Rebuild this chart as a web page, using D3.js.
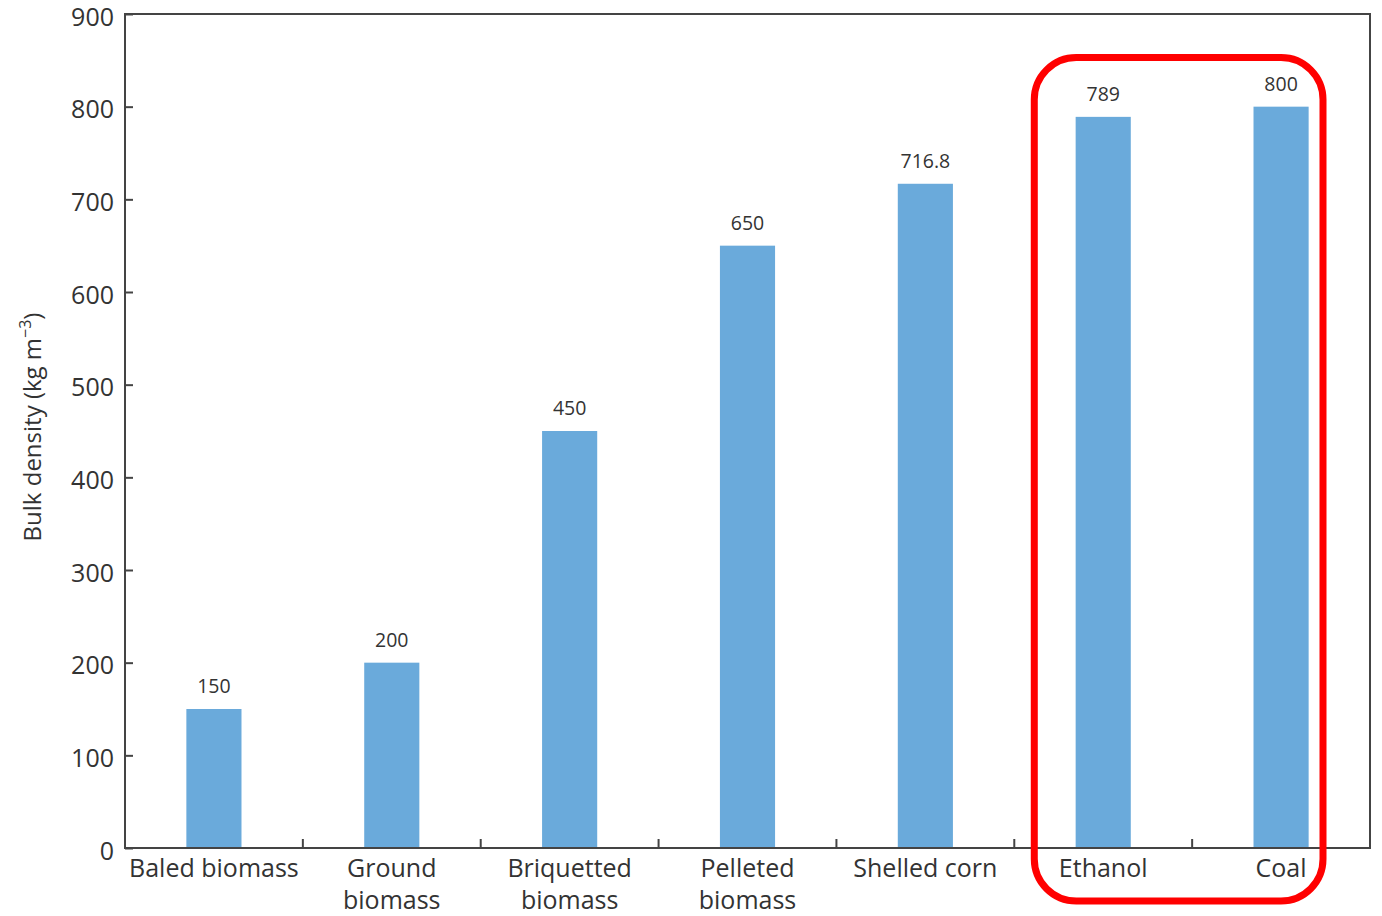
<!DOCTYPE html>
<html><head><meta charset="utf-8">
<script src="https://cdn.jsdelivr.net/npm/d3@7"></script>
<style>body{margin:0;background:#fff}svg{display:block}text{font-family:"Open Sans",sans-serif}</style>
</head><body><svg id="c" width="1382" height="916"></svg>
<script>
const categories = ["Baled biomass","Ground biomass","Briquetted biomass","Pelleted biomass","Shelled corn","Ethanol","Coal"];
const labelLines = [["Baled biomass"],["Ground","biomass"],["Briquetted","biomass"],["Pelleted","biomass"],["Shelled corn"],["Ethanol"],["Coal"]];
const values = [150,200,450,650,716.8,789,800];
const valueLabels = ["150","200","450","650","716.8","789","800"];
const yTicks = [0,100,200,300,400,500,600,700,800,900];
const highlighted = ["Ethanol","Coal"];

const svg = d3.select("#c");
const m = {l:125, r:1370, t:14, b:848};
const x = d3.scaleBand().domain(categories).range([m.l,m.r]).paddingInner(0.69).paddingOuter(0.345);
const xb = d3.scaleBand().domain(categories).range([m.l,m.r]);
const y = d3.scaleLinear().domain([0,900]).range([m.b,m.t]);
const ink = "#333";

// bars
svg.selectAll("rect.bar").data(values).enter().append("rect")
  .attr("x",(d,i)=>x(categories[i])).attr("width",x.bandwidth())
  .attr("y",d=>y(d)).attr("height",d=>y(0)-y(d)).attr("fill","#6aaadb");

// value labels
svg.selectAll("text.val").data(values).enter().append("text")
  .attr("x",(d,i)=>x(categories[i])+x.bandwidth()/2).attr("y",d=>y(d)-16)
  .attr("text-anchor","middle").attr("font-size",19.5).attr("fill",ink)
  .text((d,i)=>valueLabels[i]);

// frame
svg.append("rect").attr("x",m.l).attr("y",m.t).attr("width",m.r-m.l).attr("height",m.b-m.t)
  .attr("fill","none").attr("stroke","#444").attr("stroke-width",2);

// y axis
const ya = svg.append("g").attr("transform",`translate(${m.l},0)`)
  .call(d3.axisLeft(y).tickValues(yTicks).tickSize(-8).tickPadding(11));
ya.select(".domain").remove();
ya.selectAll("line").attr("stroke","#444").attr("stroke-width",2);
ya.selectAll("text").attr("font-size",25).attr("fill",ink).attr("font-family","Open Sans, sans-serif")
  .attr("dy","0.45em");

// x ticks at category boundaries (inward)
const bounds = categories.slice(1).map(c=>xb(c));
svg.selectAll("line.xt").data(bounds).enter().append("line")
  .attr("x1",d=>d).attr("x2",d=>d).attr("y1",m.b).attr("y2",m.b-9)
  .attr("stroke","#444").attr("stroke-width",2);

// x labels
categories.forEach((c,i)=>{
  const t = svg.append("text").attr("x",xb(c)+xb.bandwidth()/2).attr("y",877)
    .attr("text-anchor","middle").attr("font-size",25).attr("fill",ink);
  labelLines[i].forEach((ln,j)=>t.append("tspan").attr("x",xb(c)+xb.bandwidth()/2).attr("dy",j?32:0).text(ln));
});

// y title
const yt = svg.append("text").attr("transform",`translate(41,${(m.t+m.b)/2-4}) rotate(-90)`)
  .attr("text-anchor","middle").attr("font-size",24).attr("fill",ink);
yt.append("tspan").text("Bulk density (kg m");
yt.append("tspan").attr("dy",-10).attr("font-size",16).text("−3");
yt.append("tspan").attr("dy",10).text(")");

// highlight box
const hx0 = xb(highlighted[0]) + 20;
const hx1 = xb(highlighted[1]) + xb.bandwidth() - 47;
const hy0 = y(853);
svg.append("rect").attr("x",hx0).attr("y",hy0).attr("width",hx1-hx0).attr("height",901-hy0)
  .attr("rx",42).attr("ry",42).attr("fill","none").attr("stroke","#ff0000").attr("stroke-width",7);
</script></body></html>
